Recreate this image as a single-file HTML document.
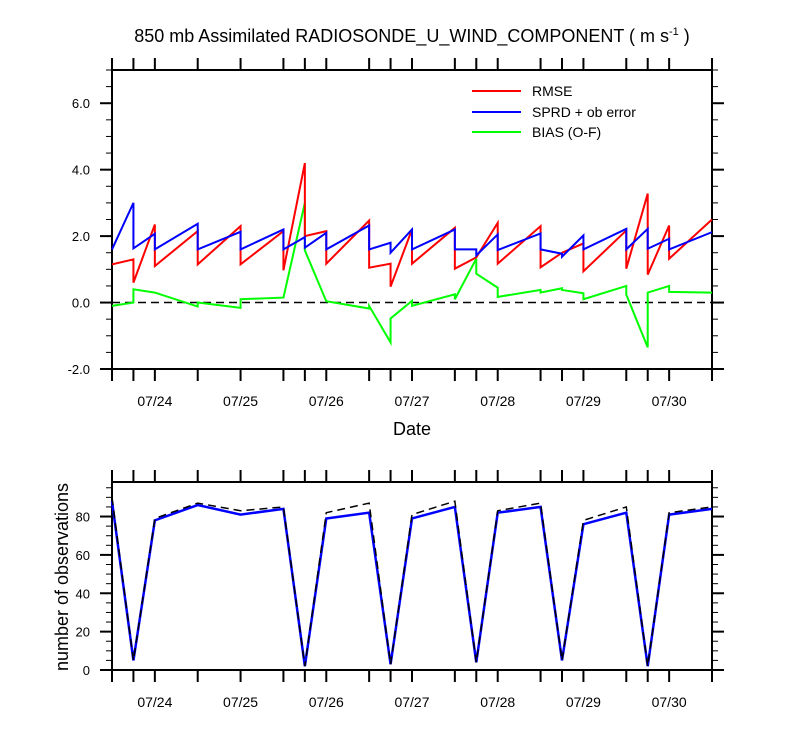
<!DOCTYPE html>
<html><head><meta charset="utf-8">
<style>
html,body{margin:0;padding:0;background:#fff;}
svg{display:block;font-family:"Liberation Sans",Arial,sans-serif;}
</style></head>
<body>
<svg id="chart" width="800" height="750" viewBox="0 0 800 750" xmlns="http://www.w3.org/2000/svg">
<text x="412" y="42" font-size="18" text-anchor="middle">850 mb Assimilated RADIOSONDE_U_WIND_COMPONENT ( m s<tspan dy="-7" font-size="11">-1</tspan><tspan dy="7"> )</tspan></text>
<text x="412" y="435" font-size="18" text-anchor="middle">Date</text>
<text transform="translate(68,577) rotate(-90)" font-size="18" text-anchor="middle">number of observations</text>
<g id="topPanel"></g>
<g id="botPanel"></g>
<g>
<line x1="472" y1="91" x2="521" y2="91" stroke="#ff0000" stroke-width="2"/>
<text x="532" y="96" font-size="14">RMSE</text>
<line x1="472" y1="112" x2="521" y2="112" stroke="#0000ff" stroke-width="2"/>
<text x="532" y="117" font-size="14">SPRD + ob error</text>
<line x1="472" y1="132" x2="521" y2="132" stroke="#00ff00" stroke-width="2"/>
<text x="532" y="137" font-size="14">BIAS (O-F)</text>
</g>
</svg>
<script>
const times=[23.5,23.75,24.0,24.5,25.0,25.5,25.75,26.0,26.5,26.75,27.0,27.5,27.75,28.0,28.5,28.75,29.0,29.5,29.75,30.0,30.5];
const rmseIn =[1.15,1.3,2.35,2.15,2.3,2.15,4.2,2.15,2.47,1.17,2.2,2.25,1.36,2.4,2.3,1.5,1.78,2.17,3.28,2.32,2.5];
const rmseOut=[1.15,0.6,1.1,1.15,1.15,0.97,2.0,1.17,1.05,0.48,1.17,1.02,1.36,1.17,1.06,1.5,0.94,1.02,0.84,1.32,2.5];
const sprdIn =[1.6,3.0,2.07,2.37,2.13,2.2,1.97,2.1,2.32,1.8,2.2,2.2,1.6,2.05,2.08,1.47,2.02,2.22,2.22,1.92,2.12];
const sprdOut=[1.6,1.63,1.6,1.6,1.6,1.6,1.65,1.6,1.6,1.5,1.6,1.6,1.42,1.58,1.6,1.38,1.6,1.6,1.62,1.6,2.12];
const biasIn =[-0.1,0.0,0.3,-0.12,-0.16,0.15,3.0,0.04,-0.18,-1.2,0.05,0.25,1.32,0.45,0.38,0.43,0.28,0.5,-1.35,0.5,0.3];
const biasOut=[-0.1,0.4,0.3,0.0,0.1,0.15,1.57,0.04,-0.1,-0.48,-0.1,0.1,0.87,0.17,0.3,0.38,0.1,0.24,0.3,0.32,0.3];
const obsUsed=[88,5,78,86,81,84,2,79,82,3,79,85,4,82,85,5,76,82,2,81,84];
const obsTotal=[90,5,79,87,83,85,2,82,87,3,81,88,4,83,87,5,78,85,2,82,85];
const dateLabels=["07/24","07/25","07/26","07/27","07/28","07/29","07/30"];
const dateValues=[24,25,26,27,28,29,30];
const topTicks=[-2,0,2,4,6];
const botTicks=[0,20,40,60,80];

const NS="http://www.w3.org/2000/svg";
const X0=112,X1=712,T0=23.5,T1=30.5;
const xs=t=>X0+(t-T0)/(T1-T0)*(X1-X0);
const TY0=70,TY1=369,V0=-2,V1=7;
const ys=v=>TY1-(v-V0)/(V1-V0)*(TY1-TY0);
const BY0=482,BY1=670,N1=98;
const yb=v=>BY1-v/N1*(BY1-BY0);
function el(tag,attrs,parent,text){const e=document.createElementNS(NS,tag);for(const k in attrs)e.setAttribute(k,attrs[k]);if(text!==undefined)e.textContent=text;parent.appendChild(e);return e;}
const topG=document.getElementById('topPanel'),botG=document.getElementById('botPanel');

function frame(g,y0,y1,name){
  const r=el('rect',{x:X0,y:y0,width:X1-X0,height:y1-y0,fill:'none',stroke:'#000','stroke-width':2},g);
  
  
  times.forEach(t=>{
    const a=el('line',{x1:xs(t),x2:xs(t),y1:y0,y2:y0-12,stroke:'#000','stroke-width':2},g);
    
    
    const b=el('line',{x1:xs(t),x2:xs(t),y1:y1,y2:y1+12,stroke:'#000','stroke-width':2},g);
    
    
  });
  dateValues.forEach((d,i)=>{
    const tx=el('text',{x:xs(d),y:y1+37,'font-size':14,'text-anchor':'middle'},g,dateLabels[i]);
    
    
  });
}
function yticks(g,ticks,minorStep,lo,hi,scale,fmt){
  for(let v=lo;v<=hi+1e-9;v+=minorStep){
    const major=ticks.some(t=>Math.abs(t-v)<1e-6);
    const len=major?12:6;
    const y=scale(v);
    const l=el('line',{x1:X0,x2:X0-len,y1:y,y2:y,stroke:'#000','stroke-width':major?2:1},g);
    
    
    const r=el('line',{x1:X1,x2:X1+len,y1:y,y2:y,stroke:'#000','stroke-width':major?2:1},g);
    
    
    if(major){
      const tx=el('text',{x:X0-22,y:y+5,'font-size':13,'text-anchor':'end'},g,fmt(v));
      
      
    }
  }
}
function sawPath(inA,outA,scale){
  let d='';
  times.forEach((t,i)=>{const x=xs(t);d+=(i?'L':'M')+x+','+scale(inA[i]);d+='L'+x+','+scale(outA[i]);});
  return d;
}
function linePath(a,scale){return a.map((v,i)=>(i?'L':'M')+xs(times[i])+','+scale(v)).join('');}

frame(topG,TY0,TY1,'top-plot-frame');
yticks(topG,topTicks,0.5,-2,7,ys,v=>v.toFixed(1));
const z=el('line',{x1:X0,x2:X1,y1:ys(0),y2:ys(0),stroke:'#000','stroke-width':1.5,'stroke-dasharray':'8,5'},topG);


const pb=el('path',{d:sawPath(biasIn,biasOut,ys),fill:'none',stroke:'#00ff00','stroke-width':2},topG);


const pr=el('path',{d:sawPath(rmseIn,rmseOut,ys),fill:'none',stroke:'#ff0000','stroke-width':2},topG);


const ps=el('path',{d:sawPath(sprdIn,sprdOut,ys),fill:'none',stroke:'#0000ff','stroke-width':2},topG);



frame(botG,BY0,BY1,'bottom-plot-frame');
yticks(botG,botTicks,5,0,95,yb,v=>String(v));
const pu=el('path',{d:linePath(obsUsed,yb),fill:'none',stroke:'#0000ff','stroke-width':2.5},botG);


const pt=el('path',{d:linePath(obsTotal,yb),fill:'none',stroke:'#000','stroke-width':1.5,'stroke-dasharray':'8,5'},botG);


</script>
</body></html>
